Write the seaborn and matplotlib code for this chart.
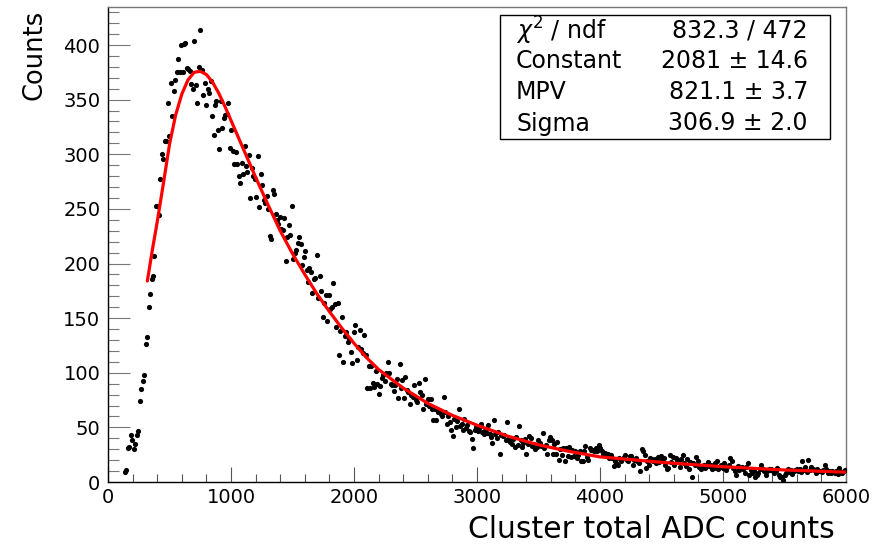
import matplotlib
matplotlib.use("Agg")
import matplotlib.pyplot as plt
import seaborn as sns
from matplotlib.ticker import MultipleLocator
from matplotlib.patches import Rectangle

# ---------------- data ----------------
bin_width = 12          # ADC counts per histogram bin
first_bin_low = 132     # lower edge of first non-empty bin

counts_rise = [9, 11, 31, 32, 43, 38, 30, 35, 43, 47,
               74, 85, 92, 98, 126, 133, 160, 172, 186, 189,
               207, 253, 253, 244, 277, 300, 296, 312, 312, 347]
counts_peak = [317, 365, 335, 358, 368, 375, 387, 375, 400, 375,
               401, 402, 379, 378, 376, 364, 360, 404, 363, 347,
               380, 414, 377, 354, 365, 345, 360, 356, 367, 335,
               318, 345, 349, 322, 305, 349, 324, 333, 336, 337,
               347, 306, 322, 303, 291, 302, 291, 280, 274, 292,
               282, 308, 289, 284, 299]
counts_fall = [260, 287, 280, 277, 261, 298, 252, 282, 272, 258,
               255, 262, 250, 225, 222, 267, 264, 245, 240, 236,
               243, 232, 231, 242, 202, 224, 235, 226, 253, 204,
               210, 212, 219, 224, 218, 199, 206, 211, 194, 183,
               196, 192, 173, 186, 187, 208, 168, 189, 175, 151,
               164, 171, 147, 171, 158, 160, 182, 163, 142, 164,
               116, 138, 151, 110, 134, 137, 128, 131, 119, 109,
               137, 144, 112, 124, 139, 122, 118, 135, 116]
counts_mid = [86, 106, 86, 106, 91, 87, 102, 90, 81, 88,
              95, 98, 92, 100, 110, 100, 90, 89, 83, 89,
              94, 77, 108, 86, 93, 77, 96, 84, 82, 71,
              80, 78, 89, 75, 73, 91, 82, 80, 67, 94,
              71, 76, 70, 76, 67, 57, 67, 57, 64, 66,
              62, 60, 78, 64, 53, 60, 55, 48, 42, 58,
              50, 56, 67, 51, 53, 48, 58, 49, 52, 47,
              46, 39, 31, 48, 50, 47, 49, 53, 46, 44,
              48, 45, 52, 44, 41, 36, 57, 44, 40, 46,
              26, 43, 42, 43, 38, 55, 40, 37, 35, 39,
              32, 41, 34, 51, 38, 32, 36, 39, 26, 35,
              42, 40, 33, 35, 30, 32, 38, 36, 33, 45,
              31, 34, 26, 38, 41, 38, 26, 35, 26, 37,
              20, 30, 25, 31, 19, 31, 24, 32, 23, 29,
              24, 28, 22, 25, 28, 19]
counts_tail = [19, 28, 33, 23, 20, 31, 29, 29, 28, 31,
               28, 34, 31, 28, 25, 27, 25, 26, 22, 25,
               22, 15, 19, 17, 16, 22, 19, 21, 23, 25,
               20, 19, 24, 24, 16, 20, 22, 19, 17, 10,
               30, 28, 25, 13, 19, 16, 22, 21, 19, 21,
               17, 23, 18, 24, 20, 22, 16, 12, 13, 25,
               18, 23, 16, 22, 20, 19, 14, 21, 25, 17,
               15, 21, 12, 18, 5, 17, 16, 23, 19, 14]
counts_end = [12, 15, 16, 13, 16, 18, 15, 16, 12, 13,
              17, 19, 12, 14, 16, 13, 17, 11, 14, 16,
              22, 19, 13, 10, 6, 15, 11, 13, 14, 12,
              8, 14, 17, 6, 11, 8, 10, 5, 6, 8,
              12, 16, 12, 10, 6, 10, 12, 11, 12, 10,
              8, 10, 13, 6, 5, 5, 2, 6, 8, 12,
              9, 11, 7, 10, 11, 12, 10, 12, 9, 19,
              11, 14, 9, 20, 11, 14, 12, 11, 8, 12,
              10, 10, 9, 11, 16, 12, 8, 10, 8, 10,
              9, 8, 10, 7, 13, 9, 8, 10, 11]

# Landau fit curve
fit_x = [320, 360, 400, 450, 500, 550, 600, 650, 700, 750, 800, 850, 900,
         950, 1000, 1050, 1100, 1150, 1200, 1300, 1400, 1500, 1600, 1700,
         1800, 1900, 2000, 2100, 2200, 2400, 2600, 2800, 3000, 3250, 3500,
         3750, 4000, 4500, 5000, 5500, 6000]
fit_y = [184, 212, 238, 273, 309, 336, 355, 368, 375, 376, 373, 366, 356,
         344, 331, 318, 305, 292, 279, 254, 230, 209, 190, 172,
         156, 141, 127, 114, 103, 86, 72, 61, 52, 42, 34,
         28, 23, 18, 14, 11, 9]

stat_names = [r"$\chi^{2}$ / ndf", "Constant", "MPV", "Sigma"]
stat_values = ["832.3 / 472", "2081 \u00b1 14.6", "821.1 \u00b1 3.7", "306.9 \u00b1 2.0"]

x_label = "Cluster total ADC counts"
y_label = "Counts"

counts = counts_rise + counts_peak + counts_fall + counts_mid + counts_tail + counts_end
centers = [first_bin_low + bin_width * (i + 0.5) for i in range(len(counts))]

# ---------------- style ----------------
sns.set_theme(style="white")
plt.rcParams["font.family"] = ["DejaVu Sans"]
plt.rcParams["mathtext.fontset"] = "dejavusans"

W, H = 883, 547
fig = plt.figure(figsize=(W / 100, H / 100), dpi=100)
ax = fig.add_axes([108 / W, 65 / H, 738 / W, 475 / H])

sns.scatterplot(x=centers, y=counts, ax=ax, color="black", s=14,
                linewidth=0, marker="o", zorder=3, legend=False)
sns.lineplot(x=fit_x, y=fit_y, ax=ax, color="#ff0000", linewidth=2.3,
             sort=False, estimator=None, zorder=4, legend=False)

ax.set_xlim(0, 6000)
ax.set_ylim(0, 434.8)

ax.xaxis.set_major_locator(MultipleLocator(1000))
ax.xaxis.set_minor_locator(MultipleLocator(200))
ax.yaxis.set_major_locator(MultipleLocator(50))
ax.yaxis.set_minor_locator(MultipleLocator(10))

ax.tick_params(axis="y", which="major", direction="in", length=15.8, width=0.8,
               color="#777777", left=True, right=False, labelsize=14, pad=5.5,
               labelcolor="black")
ax.tick_params(axis="y", which="minor", direction="in", length=7.9, width=0.8,
               color="#777777", left=True, right=False)
ax.tick_params(axis="x", which="major", direction="in", length=10.8, width=0.8,
               color="#555555", bottom=True, top=False, labelsize=14, pad=4.5,
               labelcolor="black")
ax.tick_params(axis="x", which="minor", direction="in", length=5.8, width=0.8,
               color="#555555", bottom=True, top=False)

for side in ("left", "bottom"):
    ax.spines[side].set_color("black")
    ax.spines[side].set_linewidth(1.0)
for side in ("top", "right"):
    ax.spines[side].set_color("#777777")
    ax.spines[side].set_linewidth(1.0)
ax.grid(False)

ax.set_xlabel(x_label, fontsize=21.5, loc="right", color="black")
ax.xaxis.set_label_coords(0.985, -0.101)
ax.xaxis.label.set_va("center")
ax.set_ylabel(y_label, fontsize=18.5, loc="top", color="black")
ax.yaxis.set_label_coords(-0.099, 1 - 3 / 475)
ax.yaxis.label.set_va("center")

# stats box
box_l, box_r, box_t, box_b = 500, 830, 15, 139
fig.patches.append(Rectangle((box_l / W, 1 - box_b / H), (box_r - box_l) / W,
                             (box_b - box_t) / H, transform=fig.transFigure,
                             facecolor="white", edgecolor="black", linewidth=1.0,
                             zorder=5))
row_h = (box_b - box_t) / len(stat_names)
for i, (nm, val) in enumerate(zip(stat_names, stat_values)):
    yc = 1 - (box_t + row_h * (i + 0.5)) / H
    fig.text(516 / W, yc, nm, ha="left", va="center", fontsize=17, color="black", zorder=6)
    fig.text(808 / W, yc, val, ha="right", va="center", fontsize=17, color="black", zorder=6)

fig.savefig("out.png", dpi=100)
